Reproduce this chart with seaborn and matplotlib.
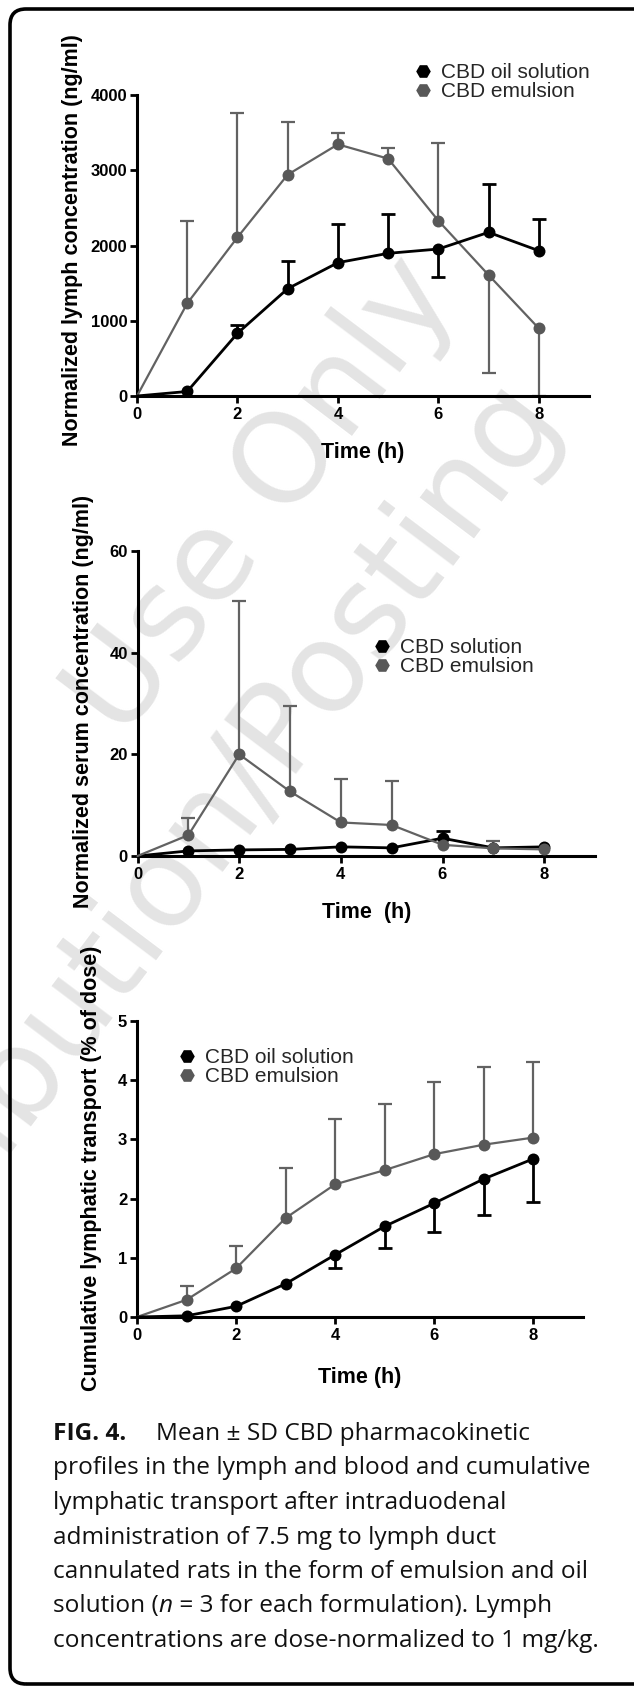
import numpy as np
import matplotlib
matplotlib.use("Agg")
import matplotlib.pyplot as plt
import seaborn as sns
from matplotlib.lines import Line2D
from matplotlib.patches import FancyBboxPatch
from matplotlib.transforms import IdentityTransform

# ---------------------------------------------------------------- data
hours = [0, 1, 2, 3, 4, 5, 6, 7, 8]

# Lymph concentration (ng/ml), mean and one-sided SD
lymph_oil = [0, 60, 833, 1426, 1772, 1896, 1953, 2175, 1931]
lymph_oil_sd_up = [0, 0, 110, 368, 509, 523, 0, 638, 417]
lymph_oil_sd_down = [0, 0, 0, 0, 0, 0, 376, 0, 0]
lymph_emul = [0, 1231, 2108, 2941, 3344, 3154, 2330, 1608, 899]
lymph_emul_sd_up = [0, 1099, 1648, 696, 155, 137, 1037, 0, 0]
lymph_emul_sd_down = [0, 0, 0, 0, 0, 0, 0, 1298, 899]

# Serum concentration (ng/ml)
serum_sol = [0, 1.0, 1.2, 1.3, 1.8, 1.6, 3.5, 1.6, 1.8]
serum_sol_sd_up = [0, 0, 0, 0, 0, 0, 1.4, 0, 0]
serum_sol_sd_down = [0, 0, 0, 0, 0, 0, 0, 0, 0]
serum_emul = [0, 4.1, 20.0, 12.7, 6.6, 6.1, 2.2, 1.5, 1.3]
serum_emul_sd_up = [0, 3.4, 30.2, 16.8, 8.6, 8.7, 0, 1.5, 0]
serum_emul_sd_down = [0, 0, 0, 0, 0, 0, 0, 0, 0]

# Cumulative lymphatic transport (% of dose)
cum_oil = [0, 0.02, 0.18, 0.56, 1.05, 1.53, 1.92, 2.33, 2.67]
cum_oil_sd_up = [0, 0, 0, 0, 0, 0, 0, 0, 0]
cum_oil_sd_down = [0, 0, 0, 0, 0.22, 0.37, 0.48, 0.60, 0.73]
cum_emul = [0, 0.29, 0.82, 1.67, 2.24, 2.48, 2.75, 2.91, 3.03]
cum_emul_sd_up = [0, 0.24, 0.38, 0.84, 1.10, 1.12, 1.22, 1.31, 1.27]
cum_emul_sd_down = [0, 0, 0, 0, 0, 0, 0, 0, 0]

legend_lymph = ["CBD oil solution", "CBD emulsion"]
legend_serum = ["CBD solution", "CBD emulsion"]
legend_cum = ["CBD oil solution", "CBD emulsion"]

ylabel_lymph = "Normalized lymph concentration (ng/ml)"
ylabel_serum = "Normalized serum concentration (ng/ml)"
ylabel_cum = "Cumulative lymphatic transport (% of dose)"
xlabel_lymph = "Time (h)"
xlabel_serum = "Time  (h)"
xlabel_cum = "Time (h)"

caption_lines = [
    [("FIG. 4.", "bold")],
    [("profiles in the lymph and blood and cumulative", "normal")],
    [("lymphatic transport after intraduodenal", "normal")],
    [("administration of 7.5 mg to lymph duct", "normal")],
    [("cannulated rats in the form of emulsion and oil", "normal")],
    [("solution (", "normal"), ("n", "italic"), (" = 3 for each formulation). Lymph", "normal")],
    [("concentrations are dose-normalized to 1 mg/kg.", "normal")],
]
caption_first_rest = "Mean ± SD CBD pharmacokinetic"

watermark_lines = ["Use Only", "Distribution/Posting"]

# ---------------------------------------------------------------- style
sns.set_theme(style="ticks")
plt.rcParams["font.family"] = ["Liberation Sans", "DejaVu Sans"]

W, H = 634, 1686
BLACK = "#000000"
GREY = "#585858"
GREY_LINE = "#626262"
LW_OIL, LW_EMUL = 2.0, 1.6

fig = plt.figure(figsize=(W / 100, H / 100), dpi=100)
fig.patch.set_facecolor("white")


def px_axes(left, top, right, bottom):
    return fig.add_axes([left / W, 1 - bottom / H, (right - left) / W, (bottom - top) / H])


def draw_sd(ax, y, up, down, color, lw, cap):
    x = np.asarray(hours, float)
    y = np.asarray(y, float)
    for sd, sign in ((np.asarray(up, float), 1), (np.asarray(down, float), -1)):
        m = sd > 0
        if not m.any():
            continue
        ends = y[m] + sign * sd[m]
        ax.vlines(x[m], y[m], ends, color=color, lw=lw, zorder=2)
        ax.plot(x[m], ends, linestyle="none", marker="_", markersize=cap,
                markeredgewidth=lw, color=color, zorder=2)


def draw_series(ax, y, color, line_color, lw):
    sns.lineplot(x=hours, y=y, ax=ax, color=line_color, linewidth=lw,
                 errorbar=None, marker="o", markersize=8.6,
                 markerfacecolor=color, markeredgecolor=color,
                 markeredgewidth=0, markevery=list(range(1, len(hours))),
                 clip_on=False, zorder=3, legend=False)


def style_axes(ax, ymax, yticks, xlabel, ylabel, ylab_x, ylab_y, xlab_y):
    ax.set_facecolor("none")
    ax.set_xlim(0, 9)
    ax.set_ylim(0, ymax)
    ax.set_xticks([0, 2, 4, 6, 8])
    ax.set_yticks(yticks)
    sns.despine(ax=ax)
    for s in ("left", "bottom"):
        ax.spines[s].set_linewidth(2.2)
        ax.spines[s].set_color(BLACK)
    ax.tick_params(axis="both", width=2.0, length=5, labelsize=12,
                   colors=BLACK, pad=2)
    ax.tick_params(axis="x", pad=3)
    for lab in ax.get_xticklabels() + ax.get_yticklabels():
        lab.set_fontweight("bold")
    ax.set_xlabel(xlabel, fontsize=15.5, fontweight="bold", color=BLACK, va="center")
    ax.set_ylabel(ylabel, fontsize=15.5, fontweight="bold", color=BLACK, va="center")
    ax.xaxis.set_label_coords(0.5, xlab_y)
    ax.yaxis.set_label_coords(ylab_x, ylab_y)


def add_legend(ax, labels, marker_x, mid_y):
    fs = 15
    handles = [Line2D([], [], marker="H", linestyle="none", color=c,
                      markersize=10.5, markeredgewidth=0) for c in (BLACK, GREY)]
    anchor_x = marker_x - 0.4 * fs * 100 / 72
    ax.legend(handles, labels, loc="center left",
              bbox_to_anchor=(anchor_x / W, 1 - mid_y / H),
              bbox_transform=fig.transFigure, frameon=False,
              handlelength=0.8, handletextpad=0.45, borderpad=0,
              borderaxespad=0, labelspacing=0.0,
              prop={"family": "Liberation Sans", "size": fs})


# ---------------------------------------------------------------- watermark
for text, ex, ey in zip(watermark_lines, (459, 559), (294, 410)):
    fig.text(ex / W, 1 - ey / H, text, rotation=53, rotation_mode="anchor",
             ha="right", va="baseline", fontsize=90, color="#e4e4e4",
             family="DejaVu Sans", zorder=-5)

# ---------------------------------------------------------------- panel 1
ax1 = px_axes(137, 95, 589, 396)
draw_sd(ax1, lymph_emul, lymph_emul_sd_up, lymph_emul_sd_down, GREY_LINE, LW_EMUL, 10)
draw_sd(ax1, lymph_oil, lymph_oil_sd_up, lymph_oil_sd_down, BLACK, LW_OIL, 10)
draw_series(ax1, lymph_emul, GREY, GREY_LINE, LW_EMUL)
draw_series(ax1, lymph_oil, BLACK, BLACK, LW_OIL)
style_axes(ax1, 4000, [0, 1000, 2000, 3000, 4000], xlabel_lymph, ylabel_lymph,
           -0.1416, 0.518, -0.189)
add_legend(ax1, legend_lymph, 423, 82)

# ---------------------------------------------------------------- panel 2
ax2 = px_axes(137.5, 551, 595, 856)
draw_sd(ax2, serum_emul, serum_emul_sd_up, serum_emul_sd_down, GREY_LINE, LW_EMUL, 10)
draw_sd(ax2, serum_sol, serum_sol_sd_up, serum_sol_sd_down, BLACK, LW_OIL, 10)
draw_series(ax2, serum_sol, BLACK, BLACK, LW_OIL)
draw_series(ax2, serum_emul, GREY, GREY_LINE, LW_EMUL)
style_axes(ax2, 60, [0, 20, 40, 60], xlabel_serum, ylabel_serum,
           -0.119, 0.507, -0.184)
add_legend(ax2, legend_serum, 382, 657)

# ---------------------------------------------------------------- panel 3
ax3 = px_axes(137, 1021, 582.5, 1317)
draw_sd(ax3, cum_emul, cum_emul_sd_up, cum_emul_sd_down, GREY_LINE, LW_EMUL, 10)
draw_sd(ax3, cum_oil, cum_oil_sd_up, cum_oil_sd_down, BLACK, LW_OIL, 10)
draw_series(ax3, cum_emul, GREY, GREY_LINE, LW_EMUL)
draw_series(ax3, cum_oil, BLACK, BLACK, LW_OIL)
style_axes(ax3, 5, [0, 1, 2, 3, 4, 5], xlabel_cum, ylabel_cum,
           -0.103, 0.502, -0.206)
add_legend(ax3, legend_cum, 187, 1067)

# ---------------------------------------------------------------- caption
CAP_FONT = ["Open Sans", "DejaVu Sans"]
renderer = fig.canvas.get_renderer()

# size the caption so its widest line spans the text block
probe = fig.text(0, 0, caption_lines[1][0][0], fontsize=10, family=CAP_FONT)
probe_w = probe.get_window_extent(renderer).width
probe.remove()
cap_size = 10 * 537 / probe_w


def draw_runs(x_px, y_px, runs):
    x = x_px
    for txt, style in runs:
        t = fig.text(x / W, 1 - y_px / H, txt, fontsize=cap_size, family=CAP_FONT,
                     fontweight="bold" if style == "bold" else "normal",
                     fontstyle="italic" if style == "italic" else "normal",
                     va="baseline", ha="left", color="#111111")
        x += t.get_window_extent(renderer).width


for i, runs in enumerate(caption_lines):
    draw_runs(53, 1440 + i * 34.5, runs)
draw_runs(156, 1440, [(caption_first_rest, "normal")])

# ---------------------------------------------------------------- frame
frame = FancyBboxPatch((10, 2), 700, 1675, boxstyle="round,pad=0,rounding_size=16",
                       transform=IdentityTransform(), facecolor="none",
                       edgecolor=BLACK, linewidth=2.6, zorder=10)
fig.add_artist(frame)

fig.savefig("out.png", dpi=100)
